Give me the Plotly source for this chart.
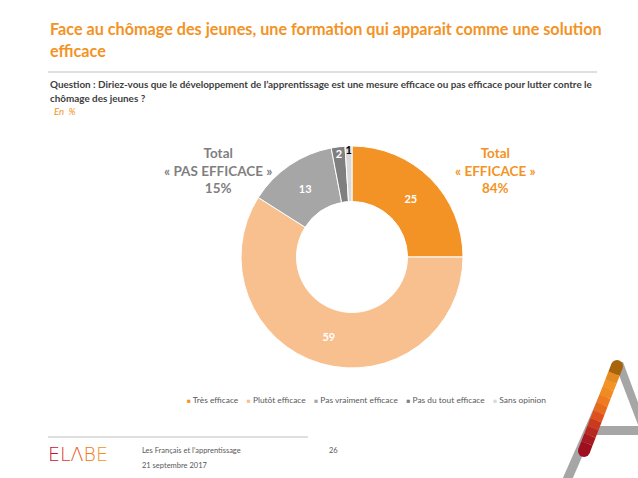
import plotly.graph_objects as go

categories = ["Très efficace", "Plutôt efficace", "Pas vraiment efficace", "Pas du tout efficace", "Sans opinion"]
values = [25, 59, 13, 2, 1]
colors = ["#F39325", "#F9C08F", "#A6A6A6", "#7F7F7F", "#D9D9D9"]
text_colors = ["white", "white", "white", "white", "black"]

W, H = 638, 478
FONT = "Lato"

def px(x):
    return x / W

def py(y):
    return 1 - y / H

fig = go.Figure()
fig.add_trace(go.Pie(
    labels=categories,
    values=values,
    hole=0.5,
    sort=False,
    direction="clockwise",
    rotation=0,
    marker=dict(colors=colors, line=dict(color="white", width=1)),
    textinfo="value",
    textposition="inside",
    insidetextorientation="horizontal",
    textfont=dict(color=text_colors, size=11, family=FONT, weight="bold"),
    domain=dict(x=[px(241), px(463)], y=[py(368), py(146)]),
    showlegend=False,
))

annotations = []
# Title
title_font = dict(family=FONT, size=16.2, color="#F39325", weight="bold")
annotations.append(dict(x=px(48), y=py(28), xref="paper", yref="paper", xanchor="left", yanchor="middle",
                        text="Face au chômage des jeunes, une formation qui apparait comme une solution",
                        showarrow=False, font=title_font))
annotations.append(dict(x=px(48), y=py(50), xref="paper", yref="paper", xanchor="left", yanchor="middle",
                        text="efficace", showarrow=False, font=title_font))
# Question
q_font = dict(family=FONT, size=9.9, color="#404040", weight="bold")
annotations.append(dict(x=px(48), y=py(84), xref="paper", yref="paper", xanchor="left", yanchor="middle",
                        text="Question : Diriez-vous que le développement de l’apprentissage est une mesure efficace ou pas efficace pour lutter contre le",
                        showarrow=False, font=q_font))
annotations.append(dict(x=px(48), y=py(98), xref="paper", yref="paper", xanchor="left", yanchor="middle",
                        text="chômage des jeunes ?", showarrow=False, font=q_font))
annotations.append(dict(x=px(52), y=py(112), xref="paper", yref="paper", xanchor="left", yanchor="middle",
                        text="<i>En  %</i>", showarrow=False,
                        font=dict(family=FONT, size=9.6, color="#F39325")))
# Totals
annotations.append(dict(x=px(218), y=py(170), xref="paper", yref="paper", xanchor="center", yanchor="middle",
                        text="Total<br>« PAS EFFICACE »<br>15%", showarrow=False,
                        font=dict(family=FONT, size=13.5, color="#7F7F7F", weight="bold")))
annotations.append(dict(x=px(496), y=py(170), xref="paper", yref="paper", xanchor="center", yanchor="middle",
                        text="Total<br>« EFFICACE »<br>84%", showarrow=False,
                        font=dict(family=FONT, size=13.5, color="#F39325", weight="bold")))

# Legend (built from categories and colours)
legend_text = "\u00a0\u00a0\u00a0\u00a0".join(
    f"<span style='color:{c};font-size:6.5px'>■</span> {lab}" for lab, c in zip(categories, colors)
)
annotations.append(dict(x=px(366), y=py(400), xref="paper", yref="paper", xanchor="center", yanchor="middle",
                        text=legend_text, showarrow=False,
                        font=dict(family=FONT, size=8.4, color="#595959")))

# Footer
foot_font = dict(family=FONT, size=7.5, color="#595959")
annotations.append(dict(x=px(140), y=py(450), xref="paper", yref="paper", xanchor="left", yanchor="middle",
                        text="Les Français et l’apprentissage", showarrow=False, font=foot_font))
annotations.append(dict(x=px(140), y=py(465), xref="paper", yref="paper", xanchor="left", yanchor="middle",
                        text="21 septembre 2017", showarrow=False, font=foot_font))
annotations.append(dict(x=px(333), y=py(450), xref="paper", yref="paper", xanchor="center", yanchor="middle",
                        text="26", showarrow=False, font=foot_font))
annotations.append(dict(x=px(46), y=py(454), xref="paper", yref="paper", xanchor="left", yanchor="middle",
                        text="<span style='color:#C8102E'>E</span><span style='color:#D93A1F'>L</span><span style='color:#E85A1A'>Λ</span><span style='color:#EE7A1A'>B</span><span style='color:#F39325'>E</span>",
                        showarrow=False, font=dict(family="DejaVu Sans", size=19, color="#E85A1A", weight=300)))

shapes = [
    dict(type="line", xref="paper", yref="paper", x0=px(48), x1=px(597), y0=py(72), y1=py(72),
         line=dict(color="#BFBFBF", width=1)),
    dict(type="line", xref="paper", yref="paper", x0=px(48), x1=px(308), y0=py(437), y1=py(437),
         line=dict(color="#BFBFBF", width=1)),
]

# Decorative logo (bottom right)
def pth(points):
    return "M " + " L ".join(f"{px(x)},{py(y)}" for x, y in points) + " Z"

gray = "#A6A6A6"
shapes.append(dict(type="path", xref="paper", yref="paper", path=pth([(614, 362), (623, 362), (572, 480), (562, 480)]),
                   fillcolor=gray, line=dict(width=0)))
shapes.append(dict(type="path", xref="paper", yref="paper", path=pth([(614, 362), (623, 362), (640, 408), (640, 430)]),
                   fillcolor=gray, line=dict(width=0)))
shapes.append(dict(type="path", xref="paper", yref="paper", path=pth([(586, 426), (640, 426), (640, 435), (583, 435)]),
                   fillcolor=gray, line=dict(width=0)))
seg_cols = ["#A8640A", "#E58A1F", "#F39325", "#F28A22", "#F07A1E", "#E86A1D",
            "#E0501C", "#CC3A1E", "#B8281E", "#A8181F", "#9E1020"]
x_top, y_top, x_bot, y_bot = 617, 366, 584, 451
n = len(seg_cols)
for i, c in enumerate(seg_cols):
    t0, t1 = i / n, (i + 1) / n
    xa, ya = x_top + (x_bot - x_top) * t0, y_top + (y_bot - y_top) * t0
    xb, yb = x_top + (x_bot - x_top) * t1, y_top + (y_bot - y_top) * t1
    shapes.append(dict(type="line", xref="paper", yref="paper", x0=px(xa), y0=py(ya), x1=px(xb), y1=py(yb),
                       line=dict(color=c, width=12)))
shapes.append(dict(type="circle", xref="paper", yref="paper", x0=px(611), x1=px(623), y0=py(360), y1=py(372),
                   fillcolor="#A8640A", line=dict(width=0)))
shapes.append(dict(type="circle", xref="paper", yref="paper", x0=px(578), x1=px(590), y0=py(445), y1=py(457),
                   fillcolor="#9E1020", line=dict(width=0)))

fig.update_layout(
    width=W, height=H,
    margin=dict(l=0, r=0, t=0, b=0),
    paper_bgcolor="white", plot_bgcolor="white",
    font=dict(family=FONT, color="#595959"),
    uniformtext=dict(minsize=11, mode="show"),
    annotations=annotations,
    shapes=shapes,
)

fig.write_html("out.html")
